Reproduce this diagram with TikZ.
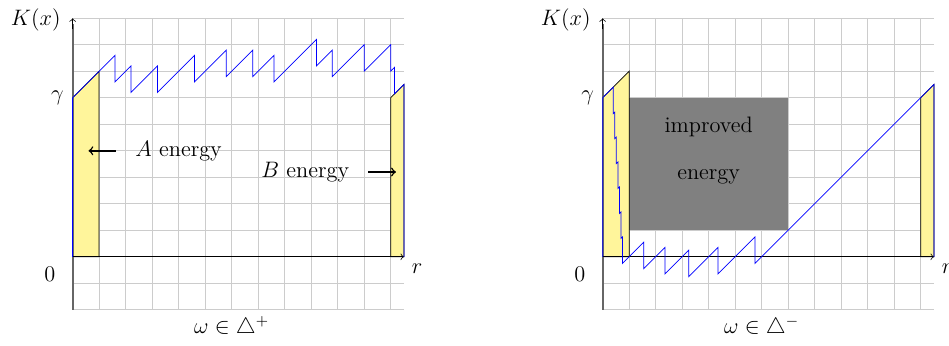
\documentclass[tikz,border=0pt]{standalone}
\usepackage{amsmath}
\usepackage{amssymb}
\definecolor{energyyellow}{RGB}{255,245,155}

\begin{document}
\begin{tikzpicture}[x=0.5cm,y=0.5cm,font=\large,
  helpgrid/.style={draw=gray!40,line width=0.5pt,step=0.5cm},
  yline/.style={draw=black!60,line width=1pt},
  energybox/.style={fill=energyyellow,draw=black},
  walk/.style={draw=blue},
  pointer/.style={->,thick}]
\useasboundingbox (-2.74,-3.33) rectangle (33.07,9.69);

% left: omega in Delta^+
\draw[helpgrid] (0,-2) grid (12.5,9);
\filldraw[energybox] (0,0) -- (0,6) -- (1,7) -- (1,0) -- cycle;
\filldraw[energybox] (12,0) -- (12,6) -- (12.5,6.5) -- (12.5,0) -- cycle;
\draw[yline] (0,-2) -- (0,8.8);
\draw[->] (0,8.6) -- (0,9);
\draw[->] (0,0) -- (12.5,0);
\draw[walk] (0,0) -- (0,6) -- (1,7) -- (1.6,7.6) -- (1.6,6.6) -- (2.2,7.2) -- (2.2,6.2)
  -- (3.2,7.2) -- (3.2,6.2) -- (4.6,7.6) -- (4.6,6.6) -- (5.8,7.8) -- (5.8,6.8)
  -- (6.8,7.8) -- (6.8,6.8) -- (7.6,7.6) -- (7.6,6.6) -- (9.2,8.2) -- (9.2,7.2)
  -- (9.8,7.8) -- (9.8,6.8) -- (11,8) -- (11,7) -- (12,8) -- (12,7)
  -- (12.15,7.15) -- (12.15,6.15) -- (12.5,6.5) -- (12.5,0);
\node (kl) at (-1.39,8.95) {$K(x)$};
\node (gl) at (-0.57,6) {$\gamma$};
\node (zl) at (-0.86,-0.66) {$0$};
\node (rl) at (13,-0.44) {$r$};
\node[anchor=base] (wl) at (6,-2.88) {$\omega\in\triangle^+$};
\node (aen) at (4,4) {$A$ energy};
\coordinate (atip) at (0.6,4);
\draw[pointer,shorten <=0.25cm] (aen) -- (atip);
\node (ben) at (8.78,3.2) {$B$ energy};
\coordinate (btip) at (12.2,3.2);
\draw[pointer,shorten <=0.24cm] (ben) -- (btip);

% right: omega in Delta^-
\begin{scope}[shift={(20,0)}]
\draw[helpgrid] (0,-2) grid (12.5,9);
\fill[gray] (1,1) rectangle (7,6);
\filldraw[energybox] (0,0) -- (0,6) -- (1,7) -- (1,0) -- cycle;
\filldraw[energybox] (12,0) -- (12,6) -- (12.5,6.5) -- (12.5,0) -- cycle;
\draw[yline] (0,-2) -- (0,8.8);
\draw[->] (0,8.6) -- (0,9);
\draw[->] (0,0) -- (12.5,0);
\draw[walk] (0,0) -- (0,6) -- (0.4,6.4) -- (0.4,5.4) -- (0.458,5.458) -- (0.458,4.458)
  -- (0.517,4.517) -- (0.517,3.517) -- (0.575,3.575) -- (0.575,2.575)
  -- (0.633,2.633) -- (0.633,1.633) -- (0.692,1.692) -- (0.692,0.692)
  -- (0.75,0.75) -- (0.75,-0.25) -- (1.55,0.55) -- (1.55,-0.45) -- (2.35,0.35)
  -- (2.35,-0.65) -- (3.25,0.25) -- (3.25,-0.75) -- (4.35,0.35) -- (4.35,-0.65)
  -- (5.75,0.75) -- (5.75,-0.25) -- (12.5,6.5) -- (12.5,0);
\node (kr) at (-1.39,8.95) {$K(x)$};
\node (gr) at (-0.57,6) {$\gamma$};
\node (zr) at (-0.86,-0.66) {$0$};
\node (rr) at (13,-0.44) {$r$};
\node[anchor=base] (wr) at (6,-2.88) {$\omega\in\triangle^-$};
\node[align=center] (imp) at (4,4) {improved\\[11pt]energy};
\end{scope}
\end{tikzpicture}
\end{document}
